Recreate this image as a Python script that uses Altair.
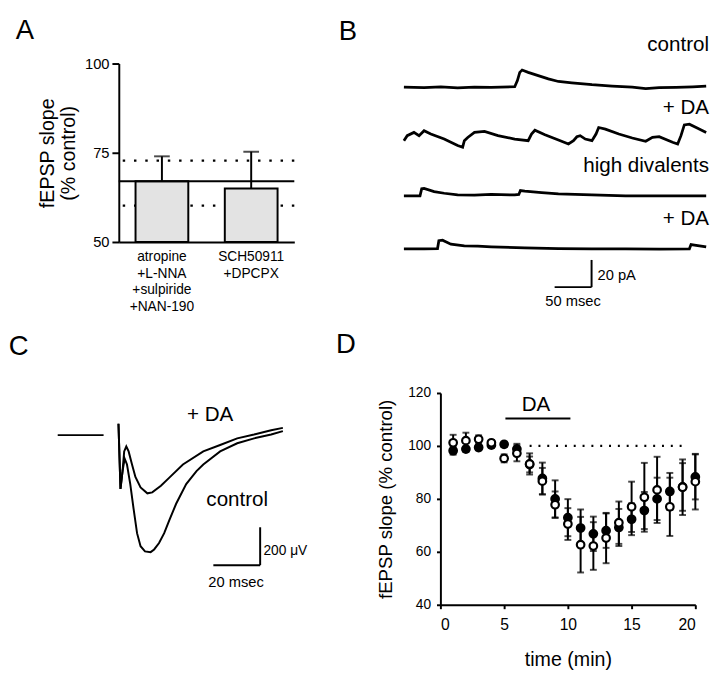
import altair as alt
import pandas as pd

FONT = "Liberation Sans, Arial, Helvetica, sans-serif"

# ---------------- Panel A data ----------------
a_groups = ["atropine|+L-NNA|+sulpiride|+NAN-190", "SCH50911|+DPCPX"]
a_means = [67.0, 65.0]
a_sem = [7.0, 10.3]
a_ref_mean = 67.0
a_ref_bounds = [72.8, 60.2]

# ---------------- Panel B data (time in ms, current in pA relative to baseline) ----------------
b_labels = ["control", "+ DA", "high divalents", "+ DA"]
b_label_y = [192.0, 145.8, 102.5, 63.5]
b_offsets = [161.0, 121.3, 80.9, 41.9]
b_t1 = [0, 27.3, 50, 72.7, 95.5, 118.2, 150, 153.6, 156.8, 160, 168.2, 181.8, 195.5, 209.1, 227.3,
        254.5, 281.8, 309.1, 327.3, 345.5, 368.2, 390.9, 409.1]
b_v1 = [0, -0.5, 0.2, -0.7, 0, -0.2, 0.2, 4.8, 10.8, 12.5, 10.8, 8.4, 6.0, 4.1, 3.1,
        1.7, 0.7, 0, -1.2, -0.5, -0.2, 0.2, 0.7]
b_t2 = [0, 4.5, 13.6, 20.5, 27.3, 36.4, 54.5, 72.7, 79.5, 81.8, 86.4, 95.5, 109.1, 127.3, 150,
        168.2, 172.7, 177.3, 190.9, 209.1, 222.7, 229.5, 234.1, 238.6, 245.5, 254.5, 260, 263.6,
        272.7, 290.9, 309.1, 327.3, 336.4, 345.5, 363.6, 370.5, 375, 379.5, 386.4, 395.5, 409.1]
b_v2 = [0.2, 3.9, 6.3, 3.9, 7.5, 5.1, 1.4, -3.4, -4.6, 0.2, 2.6, 6.3, 7.0, 3.9, 1.4,
        0.2, 5.1, 7.9, 4.6, 0.7, -2.2, 0.2, 3.1, 3.9, 1.4, 0.2, 5.1, 9.9,
        8.7, 5.1, 2.2, -0.2, 2.6, 3.1, -1.0, -2.2, 3.9, 11.8, 12.3, 9.9, 6.3]
b_t3 = [0, 18.2, 21.8, 24.1, 27.3, 40.9, 54.5, 72.7, 95.5, 118.2, 150, 155.5, 157.7, 163.6,
        186.4, 209.1, 254.5, 300, 345.5, 409.1]
b_v3 = [0, 0, 0, 5.3, 5.5, 3.1, 1.9, 0.7, 0.5, 1.0, 0.7, 1.0, 3.9, 3.4,
        2.4, 1.4, 0.7, 0, 0, 0]
b_t4 = [0, 27.3, 45.5, 47.3, 52.3, 63.6, 81.8, 100, 118.2, 163.6, 209.1, 254.5, 300, 345.5,
        386.4, 388.6, 395.5, 409.1]
b_v4 = [0, 0, 0.2, 6.0, 6.3, 3.4, 2.2, 1.9, 1.4, 0.7, 0.2, 0, 0, -0.2,
        0, 3.1, 2.6, 1.4]
b_bar_t = [204.0, 254.0]
b_bar_pa = [13.7, 33.7]

# ---------------- Panel C data (time in ms, voltage in microvolts) ----------------
c_pre_t = [-26.1, -6.5]
c_pre_v = [0, 0]
c_da_t = [-0.14, 0.72, 1.6, 2.3, 3.2, 4.2, 5.65, 7.1, 9.3, 12.2, 14.3, 18.0, 21.6, 27.4, 36.1,
          43.3, 50.6, 57.8, 65.1, 70.1]
c_da_v = [60, -284, -190, -86, -60, -86, -155, -221, -276, -307, -302, -267, -224, -155, -86,
          -52, -17, 3, 26, 38]
c_ct_t = [-0.14, 0.72, 1.6, 2.5, 3.5, 4.9, 6.4, 7.8, 9.3, 11.2, 13.6, 15.1, 17.2, 19.4, 21.6,
          24.5, 28.8, 33.2, 36.1, 43.3, 50.6, 57.8, 65.1, 70.1]
c_ct_v = [60, -284, -190, -124, -155, -258, -396, -517, -586, -613, -617, -603, -569, -517, -448,
          -362, -258, -190, -155, -86, -43, -17, 3, 21]
c_bar_t = [40.4, 60.4]
c_bar_v = [-686, -486]

# ---------------- Panel D data ----------------
d_time = list(range(1, 21))
d_filled = [98.2, 98.8, 99.4, 100.3, 100.6, 98.8, 93.0, 87.7, 80.0, 72.9, 69.0, 66.8, 68.0, 69.2,
            72.3, 75.6, 80.0, 82.8, 84.5, 88.3]
d_filled_err = [1.5, 1.0, 1.0, 1.0, 1.0, 2.0, 3.0, 6.0, 7.0, 7.0, 7.0, 6.5, 6.5, 7.0, 6.0, 7.0,
                8.0, 7.0, 9.0, 8.5]
d_open = [101.2, 102.0, 102.5, 101.2, 95.3, 97.2, 93.2, 86.7, 77.8, 70.5, 62.7, 62.2, 65.2, 71.0,
          77.0, 80.6, 83.4, 77.0, 84.4, 86.5]
d_open_err = [3.0, 3.0, 1.5, 1.0, 1.5, 3.0, 4.0, 5.0, 5.0, 6.0, 10.5, 9.0, 9.5, 8.0, 9.5, 13.0,
              12.5, 11.0, 10.5, 10.5]
d_da_span = [5.1, 10.2]
d_da_level = 110.4
d_baseline_span = [7.0, 19.3]

BLACK = "black"


def txt(df, xcol, ycol, xs, ys, size, align="center", baseline="middle", xaxis=None, yaxis=None):
    return alt.Chart(df).mark_text(align=align, baseline=baseline, fontSize=size, font=FONT,
                                   color=BLACK).encode(
        x=alt.X(f"{xcol}:Q", scale=xs, axis=xaxis), y=alt.Y(f"{ycol}:Q", scale=ys, axis=yaxis),
        text="s:N")


# ================= Panel A =================
dfA = pd.DataFrame({"group": a_groups, "mean": a_means,
                    "top": [m + s for m, s in zip(a_means, a_sem)]})
dfA_lines = pd.DataFrame({"v": a_ref_bounds})
xA = dict(sort=a_groups, scale=alt.Scale(paddingInner=0.409, paddingOuter=0.1875))
xaxA = alt.Axis(title=None, labelAngle=0, ticks=False, labelExpr="split(datum.label, '|')",
                labelFontSize=14, labelLineHeight=17, labelPadding=8, domainWidth=2,
                labelFont=FONT, labelColor=BLACK, domainColor=BLACK)
yscA = alt.Scale(domain=[50, 100])
yaxA = alt.Axis(values=[50, 75, 100], title=["fEPSP slope", "(% control)"], titleFontSize=20,
                titleLineHeight=22, titlePadding=6, labelFontSize=15, labelPadding=3, tickSize=7,
                tickWidth=2, domainWidth=2, grid=False, titleFont=FONT, labelFont=FONT,
                titleFontWeight="normal", titleColor=BLACK, labelColor=BLACK,
                domainColor=BLACK, tickColor=BLACK)

a_dots = alt.Chart(dfA_lines).mark_rule(strokeDash=[2.5, 9], strokeWidth=2.2, color=BLACK).encode(
    y=alt.Y("v:Q", scale=yscA, axis=yaxA))
a_bars = alt.Chart(dfA).mark_bar(fill="#e3e3e3", stroke=BLACK, strokeWidth=2).encode(
    x=alt.X("group:N", axis=xaxA, **xA),
    y=alt.Y("mean:Q", scale=yscA, axis=yaxA),
    y2=alt.datum(50))
a_line = alt.Chart(pd.DataFrame({"v": [a_ref_mean]})).mark_rule(strokeWidth=2, color=BLACK).encode(
    y=alt.Y("v:Q", scale=yscA, axis=yaxA))
a_err = alt.Chart(dfA).mark_rule(strokeWidth=2, color=BLACK).encode(
    x=alt.X("group:N", axis=xaxA, **xA),
    y=alt.Y("mean:Q", scale=yscA, axis=yaxA), y2="top:Q")
a_cap = alt.Chart(dfA).mark_tick(orient="horizontal", size=16, thickness=2, color=BLACK).encode(
    x=alt.X("group:N", axis=xaxA, **xA),
    y=alt.Y("top:Q", scale=yscA, axis=yaxA))
panelA = alt.layer(a_dots, a_bars, a_line, a_err, a_cap).properties(
    width=179, height=182,
    title=alt.TitleParams("A", anchor="start", frame="bounds", dx=-22, offset=12, fontSize=28,
                          font=FONT, fontWeight="normal", color=BLACK))

# ================= Panel B =================
rows = []
for k, (ts, vs) in enumerate([(b_t1, b_v1), (b_t2, b_v2), (b_t3, b_v3), (b_t4, b_v4)]):
    for i, (t, v) in enumerate(zip(ts, vs)):
        rows.append({"trace": k, "i": i, "t": t, "pA": b_offsets[k] + v})
dfB = pd.DataFrame(rows)
xsB = alt.Scale(domain=[49.4, 413.0], nice=False, zero=False)
ysB = alt.Scale(domain=[0, 178.3], nice=False)
b_lines = alt.Chart(dfB).mark_line(color=BLACK, strokeWidth=2.8).encode(
    x=alt.X("t:Q", scale=xsB, axis=None), y=alt.Y("pA:Q", scale=ysB, axis=None),
    detail="trace:N", order="i:Q")
b_text = txt(pd.DataFrame({"s": b_labels, "y": b_label_y, "x": [413.0] * 4}), "x", "y", xsB, ysB,
             21, align="right")
b_sb_h = alt.Chart(pd.DataFrame({"t1": [b_bar_t[0]], "t2": [b_bar_t[1]], "v": [b_bar_pa[0]]})).mark_rule(
    strokeWidth=2, color=BLACK).encode(
    x=alt.X("t1:Q", scale=xsB, axis=None), x2="t2:Q", y=alt.Y("v:Q", scale=ysB, axis=None))
b_sb_v = alt.Chart(pd.DataFrame({"t": [b_bar_t[1]], "v1": [b_bar_pa[0]], "v2": [b_bar_pa[1]]})).mark_rule(
    strokeWidth=2, color=BLACK).encode(
    x=alt.X("t:Q", scale=xsB, axis=None), y=alt.Y("v1:Q", scale=ysB, axis=None), y2="v2:Q")
b_sb_t1 = txt(pd.DataFrame({"t": [262], "v": [22.4], "s": ["20 pA"]}), "t", "v", xsB, ysB, 15, align="left")
b_sb_t2 = txt(pd.DataFrame({"t": [229], "v": [3.6], "s": ["50 msec"]}), "t", "v", xsB, ysB, 15)
b_letter = txt(pd.DataFrame({"t": [-88.1], "v": [195.6], "s": ["B"]}), "t", "v", xsB, ysB, 28,
               align="left", baseline="alphabetic")
panelB = alt.layer(b_lines, b_text, b_sb_h, b_sb_v, b_sb_t1, b_sb_t2, b_letter).properties(
    width=274, height=247)

# ================= Panel C =================
rows = []
for name, ts, vs in [("pre", c_pre_t, c_pre_v), ("da", c_da_t, c_da_v), ("ctrl", c_ct_t, c_ct_v)]:
    for i, (t, v) in enumerate(zip(ts, vs)):
        rows.append({"trace": name, "i": i, "t": t, "v": v})
dfC = pd.DataFrame(rows)
xsC = alt.Scale(domain=[0, 79.6], nice=False, zero=False)
ysC = alt.Scale(domain=[-843, 398], nice=False)
c_lines = alt.Chart(dfC).mark_line(color=BLACK, strokeWidth=2).encode(
    x=alt.X("t:Q", scale=xsC, axis=None), y=alt.Y("v:Q", scale=ysC, axis=None),
    detail="trace:N", order="i:Q")
c_text = txt(pd.DataFrame({"s": ["+ DA", "control"], "t": [39, 50.6], "v": [103, -341]}), "t", "v",
             xsC, ysC, 21)
c_sb_h = alt.Chart(pd.DataFrame({"t1": [c_bar_t[0]], "t2": [c_bar_t[1]], "v": [c_bar_v[0]]})).mark_rule(
    strokeWidth=2, color=BLACK).encode(
    x=alt.X("t1:Q", scale=xsC, axis=None), x2="t2:Q", y=alt.Y("v:Q", scale=ysC, axis=None))
c_sb_v = alt.Chart(pd.DataFrame({"t": [c_bar_t[1]], "v1": [c_bar_v[0]], "v2": [c_bar_v[1]]})).mark_rule(
    strokeWidth=2, color=BLACK).encode(
    x=alt.X("t:Q", scale=xsC, axis=None), y=alt.Y("v1:Q", scale=ysC, axis=None), y2="v2:Q")
c_sb_t1 = txt(pd.DataFrame({"t": [61.8], "v": [-612], "s": ["200 \u03bcV"]}), "t", "v", xsC, ysC, 14,
              align="left")
c_sb_t2 = txt(pd.DataFrame({"t": [50.1], "v": [-775], "s": ["20 msec"]}), "t", "v", xsC, ysC, 15)
c_letter = txt(pd.DataFrame({"t": [-47.0], "v": [424], "s": ["C"]}), "t", "v", xsC, ysC, 28,
               align="left", baseline="alphabetic")
panelC = alt.layer(c_lines, c_text, c_sb_h, c_sb_v, c_sb_t1, c_sb_t2, c_letter).properties(
    width=190, height=240)

# ================= Panel D =================
dfD = pd.concat([
    pd.DataFrame({"t": d_time, "m": d_filled, "e": d_filled_err, "s": "filled"}),
    pd.DataFrame({"t": d_time, "m": d_open, "e": d_open_err, "s": "open"}),
])
dfD["lo"] = dfD["m"] - dfD["e"]
dfD["hi"] = dfD["m"] + dfD["e"]
xsD = alt.Scale(domain=[0, 20], nice=False)
ysD = alt.Scale(domain=[40, 120], nice=False)
xaxD = alt.Axis(values=[0, 5, 10, 15, 20], title="time (min)", titleFontSize=20, titlePadding=18,
                labelFontSize=16, labelPadding=8, tickSize=4, tickWidth=2, domainWidth=2, grid=False,
                labelFont=FONT, titleFont=FONT, titleFontWeight="normal", labelColor=BLACK,
                titleColor=BLACK, domainColor=BLACK, tickColor=BLACK)
yaxD = alt.Axis(values=[40, 60, 80, 100, 120], title="fEPSP slope (% control)", titleFontSize=19,
                titlePadding=12, labelFontSize=14, labelPadding=6, tickSize=4, tickWidth=2,
                domainWidth=2, grid=False, labelFont=FONT, titleFont=FONT, titleFontWeight="normal",
                labelColor=BLACK, titleColor=BLACK, domainColor=BLACK, tickColor=BLACK)


def X(f):
    return alt.X(f, scale=xsD, axis=xaxD)


def Y(f):
    return alt.Y(f, scale=ysD, axis=yaxD)


d_base = alt.Chart(pd.DataFrame({"t1": [d_baseline_span[0]], "t2": [d_baseline_span[1]], "v": [100]})).mark_rule(
    strokeDash=[2, 7], strokeWidth=2.2, color=BLACK).encode(x=X("t1:Q"), x2="t2:Q", y=Y("v:Q"))
d_bar = alt.Chart(pd.DataFrame({"t1": [d_da_span[0]], "t2": [d_da_span[1]], "v": [d_da_level]})).mark_rule(
    strokeWidth=2, color=BLACK).encode(x=X("t1:Q"), x2="t2:Q", y=Y("v:Q"))
d_txt = txt(pd.DataFrame({"t": [7.5], "v": [115.5], "s": ["DA"]}), "t", "v", xsD, ysD, 21,
            xaxis=xaxD, yaxis=yaxD)
d_letter = txt(pd.DataFrame({"t": [-8.2], "v": [135.1], "s": ["D"]}), "t", "v", xsD, ysD, 28,
               align="left", baseline="alphabetic", xaxis=xaxD, yaxis=yaxD)
layersD = [d_base, d_bar, d_txt, d_letter]
for s in ["filled", "open"]:
    sub = dfD[dfD["s"] == s]
    layersD.append(alt.Chart(sub).mark_rule(strokeWidth=2, color=BLACK).encode(
        x=X("t:Q"), y=Y("lo:Q"), y2="hi:Q"))
    layersD.append(alt.Chart(sub).mark_tick(orient="horizontal", size=7, thickness=2, color=BLACK).encode(
        x=X("t:Q"), y=Y("lo:Q")))
    layersD.append(alt.Chart(sub).mark_tick(orient="horizontal", size=7, thickness=2, color=BLACK).encode(
        x=X("t:Q"), y=Y("hi:Q")))
for s, fill in [("filled", BLACK), ("open", "white")]:
    sub = dfD[dfD["s"] == s]
    layersD.append(alt.Chart(sub).mark_point(shape="circle", filled=True, fill=fill, stroke=BLACK,
                                             strokeWidth=2.2, size=60, opacity=1).encode(
        x=X("t:Q"), y=Y("m:Q")))
panelD = alt.layer(*layersD).properties(width=260, height=216)

left = alt.vconcat(panelA, panelC, spacing=19)
right = alt.vconcat(panelB, panelD, spacing=22)
chart = alt.hconcat(left, right, spacing=28).properties(
    padding={"left": 0, "top": 3, "right": 0, "bottom": 0}
).configure_view(stroke=None).configure_axis(grid=False)

chart.save("out.html", embed_options={"renderer": "svg", "actions": False})
